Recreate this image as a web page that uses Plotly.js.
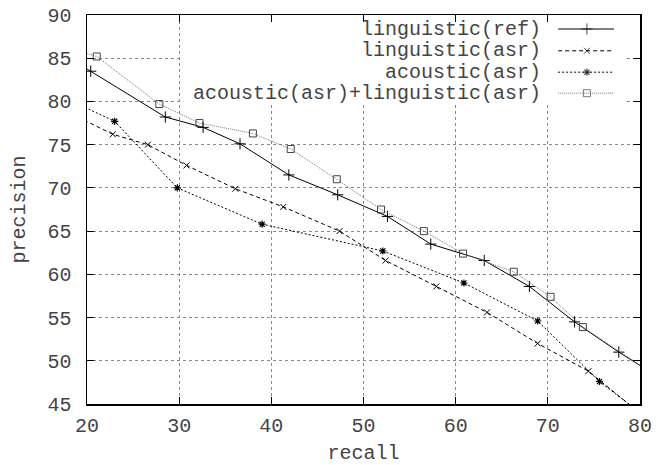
<!DOCTYPE html>
<html>
<head>
<meta charset="utf-8">
<script src="https://cdn.plot.ly/plotly-3.0.1.min.js"></script>
<style>html,body{margin:0;padding:0;background:#fff;}#chart{width:658px;height:465px;}</style>
</head>
<body>
<div id="chart"></div>
<script>
// Data
const seriesNames = ["linguistic(ref)", "linguistic(asr)", "acoustic(asr)", "acoustic(asr)+linguistic(asr)"];

const refRecall = [19, 20.4, 28.5, 32.6, 36.6, 41.9, 47.2, 52.6, 57.3, 63.1, 68.0, 72.9, 77.7, 81];
const refPrecision = [84.4, 83.5, 78.2, 77.0, 75.1, 71.5, 69.2, 66.7, 63.5, 61.6, 58.6, 54.5, 51.0, 48.8];

const lingAsrRecall = [19, 22.8, 26.6, 30.8, 36.1, 41.3, 47.4, 52.4, 57.9, 63.4, 68.9, 74.4, 80.5];
const lingAsrPrecision = [78.2, 76.2, 75.0, 72.6, 69.9, 67.8, 65.0, 61.6, 58.6, 55.6, 52.0, 48.8, 43.5];

const acAsrRecall = [19, 23.0, 29.8, 39.0, 52.1, 60.9, 68.9, 75.6, 80.5];
const acAsrPrecision = [79.7, 77.7, 70.0, 65.8, 62.7, 59.0, 54.6, 47.6, 43.6];

const combRecall = [19, 21.05, 27.85, 32.2, 38.0, 42.1, 47.1, 51.9, 56.55, 60.8, 66.3, 70.3, 73.8, 81];
const combPrecision = [85.9, 85.2, 79.7, 77.5, 76.3, 74.5, 71.0, 67.5, 65.0, 62.4, 60.3, 57.4, 53.9, 48.8];

const xTicks = [20, 30, 40, 50, 60, 70, 80];
const yTicks = [45, 50, 55, 60, 65, 70, 75, 80, 85, 90];

const FONT = "Liberation Mono, Courier New, monospace";
const TXT = "#444";

const styles = [
  {line: {color: "#000", width: 1, dash: "solid"}, marker: {symbol: "cross-thin-open", size: 8, line: {color: "#000", width: 1}}},
  {line: {color: "#000", width: 1, dash: "4px,3px"}, marker: {symbol: "x-thin-open", size: 6, line: {color: "#000", width: 1}}},
  {line: {color: "#000", width: 1, dash: "2px,2px"}, marker: {symbol: "asterisk-open", size: 6, line: {color: "#000", width: 1.2}}},
  {line: {color: "#777", width: 1, dash: "1px,1px"}, marker: {symbol: "square-open", size: 7, color: "#444", line: {color: "#444", width: 1}}}
];

const xs = [refRecall, lingAsrRecall, acAsrRecall, combRecall];
const ys = [refPrecision, lingAsrPrecision, acAsrPrecision, combPrecision];

const traces = xs.map((x, i) => ({
  x: x, y: ys[i], type: "scatter", mode: "lines+markers", name: seriesNames[i],
  line: styles[i].line, marker: styles[i].marker, showlegend: false, cliponaxis: true
}));

// Custom gnuplot-style key (white background, text right-aligned, sample on right)
const keyRows = [0.964, 0.908, 0.853, 0.799];
const keyX0 = 0.852, keyX1 = 0.953, keyXm = 0.904;
const keyBox = {x0: 0.174, x1: 0.975, y0: 0.776, y1: 1};
traces.push({
  x: [keyBox.x0, keyBox.x1, keyBox.x1, keyBox.x0, keyBox.x0],
  y: [keyBox.y0, keyBox.y0, keyBox.y1, keyBox.y1, keyBox.y0],
  xaxis: "x2", yaxis: "y2", type: "scatter", mode: "lines", fill: "toself",
  fillcolor: "#fff", line: {width: 0, color: "rgba(0,0,0,0)"}, showlegend: false, hoverinfo: "skip"
});
const annotations = [];
seriesNames.forEach((n, i) => {
  const mk = Object.assign({}, styles[i].marker);
  mk.size = [0, styles[i].marker.size, 0];
  traces.push({
    x: [keyX0, keyXm, keyX1], y: [keyRows[i], keyRows[i], keyRows[i]], xaxis: "x2", yaxis: "y2",
    type: "scatter", mode: "lines+markers", showlegend: false, hoverinfo: "skip",
    line: styles[i].line, marker: mk
  });
  annotations.push({xref: "paper", yref: "paper", x: 0.824, y: keyRows[i], xanchor: "right", yanchor: "middle",
    text: n, showarrow: false, font: {family: FONT, size: 20, color: TXT}});
});

const layout = {
  width: 658, height: 465,
  margin: {l: 87, r: 18, t: 15, b: 61},
  paper_bgcolor: "#fff", plot_bgcolor: "#fff",
  font: {family: FONT, size: 20, color: TXT},
  xaxis: {
    range: [20, 80], tickvals: xTicks, ticktext: xTicks.map(String),
    showline: true, linecolor: "#000", linewidth: 1.5, mirror: "allticks",
    ticks: "inside", ticklen: 7, tickcolor: "#000", tickwidth: 1,
    showgrid: true, gridcolor: "#888", gridwidth: 1, griddash: "dot",
    zeroline: false, ticklabelstandoff: 2, layer: "above traces",
    title: {text: "recall", font: {family: FONT, size: 20, color: TXT}, standoff: 8}
  },
  yaxis: {
    range: [45, 90], tickvals: yTicks, ticktext: yTicks.map(String),
    showline: true, linecolor: "#000", linewidth: 1.5, mirror: "allticks",
    ticks: "inside", ticklen: 7, tickcolor: "#000", tickwidth: 1,
    showgrid: true, gridcolor: "#888", gridwidth: 1, griddash: "dot",
    zeroline: false, ticklabelstandoff: 10, layer: "above traces",
    title: {text: "precision", font: {family: FONT, size: 20, color: TXT}, standoff: 16}
  },
  xaxis2: {overlaying: "x", range: [0, 1], visible: false, fixedrange: true, showgrid: false, zeroline: false},
  yaxis2: {overlaying: "y", range: [0, 1], visible: false, fixedrange: true, showgrid: false, zeroline: false},
  annotations: annotations,
  showlegend: false
};

Plotly.newPlot("chart", traces, layout, {displayModeBar: false, staticPlot: true});
</script>
</body>
</html>
